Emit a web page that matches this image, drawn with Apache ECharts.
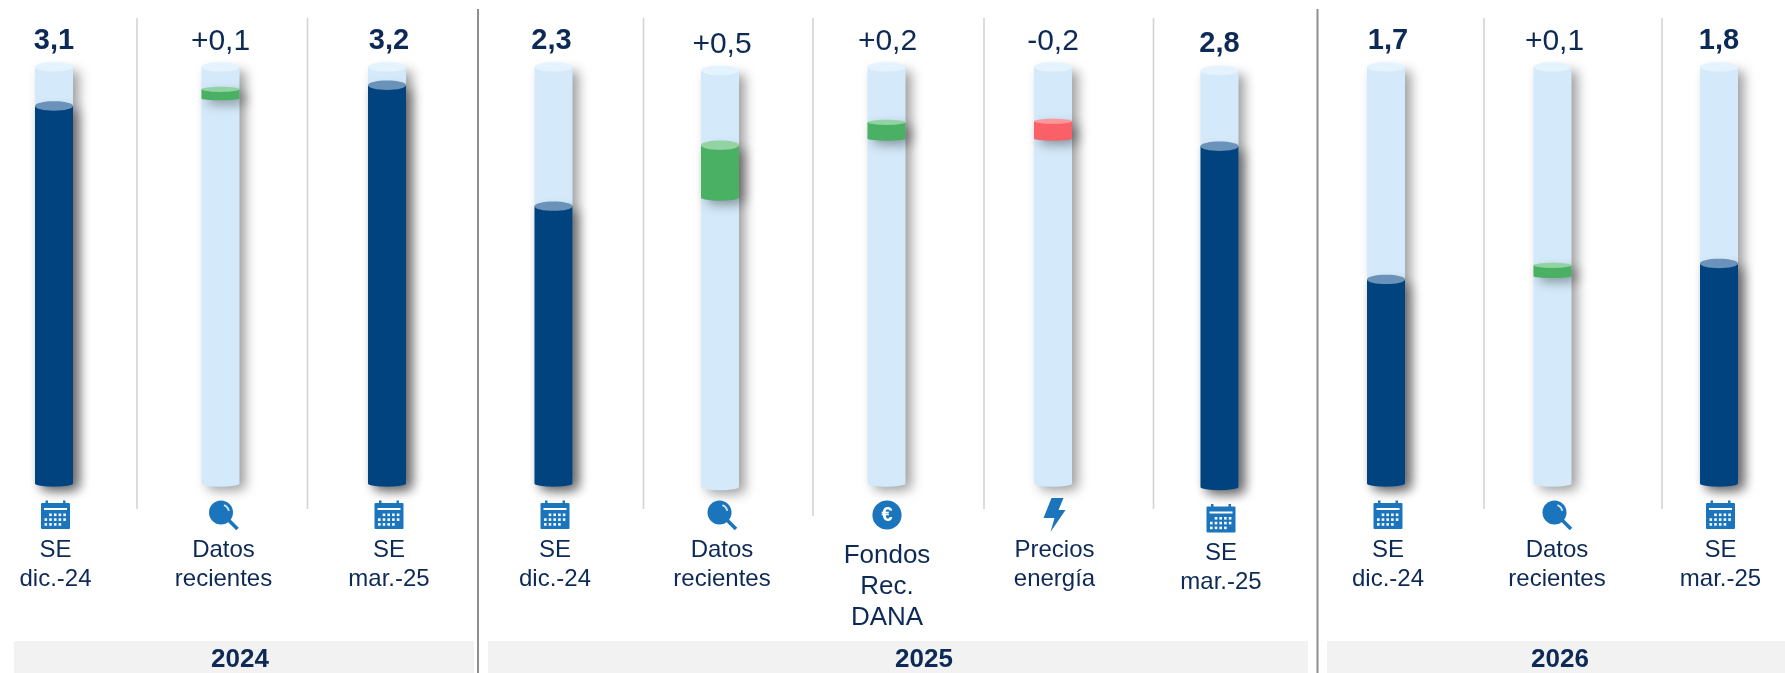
<!DOCTYPE html>
<html lang="es">
  <head>
    <meta charset="UTF-8" />
    <title>Revisión de previsiones</title>
    <style>
      html, body { margin: 0; padding: 0; background: #fff; }
      #main { width: 1785px; height: 673px; }
    </style>
  </head>
  <body>
    <div id="main"></div>
    <script src="https://cdn.jsdelivr.net/npm/echarts@6/dist/echarts.min.js"></script>
    <script>
      // datos
      const categories = [
        ['SE', 'dic.-24'], ['Datos', 'recientes'], ['SE', 'mar.-25'],
        ['SE', 'dic.-24'], ['Datos', 'recientes'], ['Fondos', 'Rec.', 'DANA'], ['Precios', 'energía'], ['SE', 'mar.-25'],
        ['SE', 'dic.-24'], ['Datos', 'recientes'], ['SE', 'mar.-25']
      ]
      const valueLabels = ['3,1', '+0,1', '3,2', '2,3', '+0,5', '+0,2', '-0,2', '2,8', '1,7', '+0,1', '1,8']
      const iconKinds = ['calendar', 'search', 'calendar', 'calendar', 'search', 'euro', 'bolt', 'calendar', 'calendar', 'search', 'calendar']
      const solidValues = [3.08, null, 3.25, 2.26, null, null, null, 2.78, 1.66, null, 1.79]
      const deltaLow = [null, 3.148, null, null, 2.372, 2.818, 2.818, null, null, 1.693, null]
      const deltaHigh = [null, 3.217, null, null, 2.787, 2.947, 2.955, null, null, 1.775, null]
      const years = ['2024', '2025', '2026']
      const capacity = 3.4

      // ajustes de maquetacion, el original no esta alineado del todo
      const barShifted = [4, 7]
      const valueShifted = [4, 7]
      const captionShifted = [7]
      const valueNudge = [0, 0, 2, -2, 2, 1, 0, 0, 2, 2, 0]
      const captionNudge = [1.5, 3, 2, 1.5, 2, 0.5, 1.5, 1.5, 2, 4.5, 1.5]

      const TEXT = '#0d2a56'
      const FONT = '"Liberation Sans", Arial, sans-serif'
      const BLUE_ICON = '#1a75bc'
      const BAR_W = 38
      const shadow = { shadowBlur: 12, shadowOffsetX: 6, shadowOffsetY: 4, shadowColor: 'rgba(0,0,0,0.38)' }

      // cuerpo con base redonda + tapa eliptica
      function cylinder(cx, yTop, yBottom, ry, body, cap) {
        let x0 = cx - BAR_W / 2
        let x1 = cx + BAR_W / 2
        let yEdge = yBottom + ry * 0.3
        let ryBottom = ry * 0.7 // la base es mas plana que la tapa
        return [
          {
            type: 'path',
            shape: {
              pathData: `M${x0} ${yTop}L${x1} ${yTop}L${x1} ${yEdge}A${BAR_W / 2} ${ryBottom} 0 0 1 ${x0} ${yEdge}Z`
            },
            style: Object.assign({ fill: body }, shadow)
          },
          {
            type: 'ellipse',
            shape: { cx: cx, cy: yTop, rx: BAR_W / 2, ry: ry },
            style: { fill: cap }
          }
        ]
      }

      function icon(kind, cx, cy) {
        if (kind === 'calendar') {
          let parts = [
            { type: 'rect', shape: { x: cx - 14.5, y: cy - 12, width: 29, height: 26, r: 1 }, style: { fill: BLUE_ICON } },
            { type: 'rect', shape: { x: cx - 10, y: cy - 14.5, width: 2.5, height: 5 }, style: { fill: BLUE_ICON } },
            { type: 'rect', shape: { x: cx + 7.5, y: cy - 14.5, width: 2.5, height: 5 }, style: { fill: BLUE_ICON } },
            { type: 'rect', shape: { x: cx - 11.5, y: cy - 7, width: 23, height: 2 }, style: { fill: '#fff' } }
          ]
          for (let r = 0; r < 3; r++) {
            for (let c = 0; c < 5; c++) {
              if (r === 0 && c === 0) continue
              if (r === 2 && c === 4) continue
              parts.push({
                type: 'rect',
                shape: { x: cx - 11 + c * 4.7, y: cy - 1.5 + r * 4.8, width: 2.6, height: 2.6 },
                style: { fill: '#fff' }
              })
            }
          }
          return parts
        }
        if (kind === 'search') {
          return [
            { type: 'line', shape: { x1: cx + 4, y1: cy + 4, x2: cx + 14, y2: cy + 14 }, style: { stroke: BLUE_ICON, lineWidth: 3.6 } },
            { type: 'circle', shape: { cx: cx - 2.5, cy: cy - 2.5, r: 12 }, style: { fill: BLUE_ICON } },
            { type: 'arc', shape: { cx: cx - 2.5, cy: cy - 2.5, r: 8, startAngle: -1.2, endAngle: -0.2 }, style: { stroke: '#cfe3f3', fill: null, lineWidth: 1.8 } }
          ]
        }
        if (kind === 'euro') {
          return [
            { type: 'circle', shape: { cx: cx, cy: cy, r: 14.6 }, style: { fill: BLUE_ICON } },
            { type: 'text', style: { text: '€', x: cx, y: cy + 0.5, align: 'center', verticalAlign: 'middle', fill: '#fff', fontSize: 20, fontWeight: 'bold', fontFamily: FONT } }
          ]
        }
        return [
          {
            type: 'path',
            shape: {
              pathData: `M${cx - 3} ${cy - 17}L${cx + 9} ${cy - 17}L${cx + 4} ${cy - 5}L${cx + 11} ${cy - 5}L${cx - 4} ${cy + 17}L${cx} ${cy + 3}L${cx - 11} ${cy + 3}Z`
            },
            style: { fill: BLUE_ICON }
          }
        ]
      }

      function renderColumn(params, api) {
        let i = api.value(0)
        let cx = api.coord([i, 0])[0]
        let dy = barShifted.includes(i) ? 3.5 : 0
        let y = (v) => api.coord([i, v])[1] + dy
        let children = []

        children.push(...cylinder(cx, y(capacity), y(0), 4.7, '#d4eafa', '#e4f3fd'))

        if (solidValues[i] != null) {
          children.push(...cylinder(cx, y(solidValues[i]), y(0), 4.7, '#00437f', '#6b92b8'))
        }
        if (deltaHigh[i] != null) {
          let yHi = y(deltaHigh[i])
          let yLo = y(deltaLow[i])
          let up = valueLabels[i].startsWith('+')
          let ry = yLo - yHi < 25 ? 2.6 : 4.7
          children.push(...cylinder(cx, yHi, yLo, ry, up ? '#49b064' : '#f96068', up ? '#93d2a2' : '#fb979b'))
        }

        let bold = solidValues[i] != null
        children.push({
          type: 'text',
          style: {
            text: valueLabels[i],
            x: cx + valueNudge[i],
            y: (bold ? 40.5 : 41.5) + (valueShifted.includes(i) ? 3.5 : 0),
            align: 'center',
            verticalAlign: 'middle',
            fill: TEXT,
            fontSize: bold ? 29 : 30,
            fontWeight: bold ? 'bold' : 'normal',
            fontFamily: FONT
          }
        })

        let capDy = captionShifted.includes(i) ? 3.5 : 0
        children.push(...icon(iconKinds[i], cx + captionNudge[i], 515 + capDy))

        let lines = categories[i]
        let big = lines.length === 3
        lines.forEach((line, n) => {
          children.push({
            type: 'text',
            style: {
              text: line,
              x: cx + captionNudge[i],
              y: (big ? 555.5 + n * 31 : 550 + n * 29) + capDy,
              align: 'center',
              verticalAlign: 'middle',
              fill: TEXT,
              fontSize: big ? 26 : 24,
              fontFamily: FONT
            }
          })
        })

        return { type: 'group', children: children }
      }

      // separadores y franjas de los anos
      const lightSeparators = [[137, 509], [307.5, 509], [643.5, 509], [813, 516], [984, 509], [1153.5, 509], [1484, 509], [1662, 509]]
      const darkSeparators = [478, 1317.5]
      const yearBands = [[14, 474, 240], [488, 1308, 924], [1327, 1785, 1560]]

      let chrome = []
      lightSeparators.forEach(([x, yEnd]) => {
        chrome.push({ type: 'line', shape: { x1: x, y1: 18, x2: x, y2: yEnd }, style: { stroke: '#d4d4d4', lineWidth: 1.6 } })
      })
      darkSeparators.forEach((x) => {
        chrome.push({ type: 'line', shape: { x1: x, y1: 9, x2: x, y2: 673 }, style: { stroke: '#8f8f8f', lineWidth: 2 } })
      })
      yearBands.forEach(([x0, x1, xText], k) => {
        chrome.push({ type: 'rect', shape: { x: x0, y: 641, width: x1 - x0, height: 32 }, style: { fill: '#f2f2f2' } })
        chrome.push({
          type: 'text',
          style: {
            text: years[k],
            x: xText,
            y: 660,
            align: 'center',
            verticalAlign: 'middle',
            fill: TEXT,
            fontSize: 26,
            fontWeight: 'bold',
            fontFamily: FONT
          }
        })
      })

      let mCharts = echarts.init(document.querySelector('#main'))
      mCharts.setOption({
        animation: false,
        grid: { left: 54, right: 66, top: 67, height: 415 },
        xAxis: { type: 'value', min: 0, max: 10, show: false },
        yAxis: { type: 'value', min: 0, max: capacity, show: false },
        graphic: { elements: chrome },
        series: [
          {
            type: 'custom',
            clip: false,
            silent: true,
            renderItem: renderColumn,
            encode: { x: 0, y: 1 },
            data: categories.map((c, i) => [i, capacity])
          }
        ]
      })
    </script>
  </body>
</html>
